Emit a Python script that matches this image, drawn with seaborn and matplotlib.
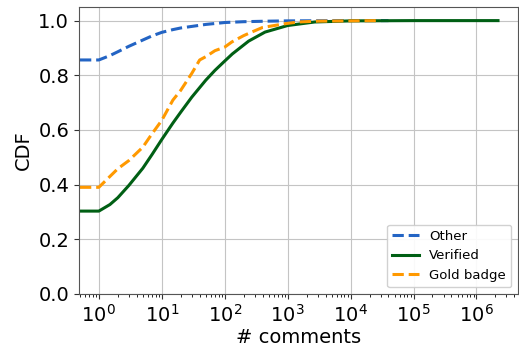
import numpy as np
import pandas as pd
import matplotlib
matplotlib.use("Agg")
import matplotlib.pyplot as plt
import seaborn as sns

# ---- data ----
other_x = [0, 1, 1.5, 2, 3, 5, 7, 10, 15, 20, 50, 100, 200, 500, 1000, 10000, 40000]
other_y = [0.855, 0.856, 0.872, 0.886, 0.906, 0.929, 0.944, 0.957, 0.967, 0.973, 0.986, 0.993, 0.996, 0.998, 0.999, 1.0, 1.0]

verified_x = [0, 1, 1.5, 2, 3, 5, 7, 10, 15, 20, 30, 50, 70, 100, 132, 240, 437, 1000, 2700, 10000, 100000, 2200000]
verified_y = [0.303, 0.303, 0.327, 0.352, 0.397, 0.46, 0.51, 0.565, 0.625, 0.665, 0.72, 0.782, 0.818, 0.852, 0.878, 0.925, 0.958, 0.982, 0.995, 0.999, 1.0, 1.0]

gold_x = [0, 1, 2, 3, 5, 7, 10, 15, 20, 30, 40, 50, 70, 100, 130, 200, 250, 400, 1000, 1500, 3000, 30000]
gold_y = [0.39, 0.39, 0.458, 0.488, 0.537, 0.586, 0.635, 0.709, 0.745, 0.807, 0.856, 0.868, 0.89, 0.903, 0.922, 0.945, 0.955, 0.975, 0.99, 0.995, 0.998, 1.0]

labels = ["Other", "Verified", "Gold badge"]
colors = ["#2364c4", "#005f14", "#ff9900"]
styles = ["--", "-", "--"]

fig, ax = plt.subplots(figsize=(5.19, 3.47), dpi=100)
fig.subplots_adjust(left=0.152, right=0.998, bottom=0.153, top=0.98)

for xs, ys, lab, col, ls in zip([other_x, verified_x, gold_x],
                                [other_y, verified_y, gold_y],
                                labels, colors, styles):
    df = pd.DataFrame({"x": xs, "y": ys})
    sns.lineplot(data=df, x="x", y="y", ax=ax, color=col, linestyle=ls,
                 linewidth=2.2, label=lab, estimator=None, sort=True)

ax.set_xscale("log")
ax.set_ylim(0, 1.05)
ax.set_yticks([0, 0.2, 0.4, 0.6, 0.8, 1.0])
ax.grid(True, color="#c4c4c4", linewidth=0.8)
ax.set_axisbelow(True)
for s in ax.spines.values():
    s.set_color("#555555")
ax.tick_params(labelsize=14, colors="#333333", labelcolor="black")
ax.set_xlabel("# comments", fontsize=14, labelpad=2)
ax.set_ylabel("CDF", fontsize=14)
ax.legend(loc="lower right", fontsize=9.5, framealpha=0.9)

fig.savefig("out.png", dpi=100)
